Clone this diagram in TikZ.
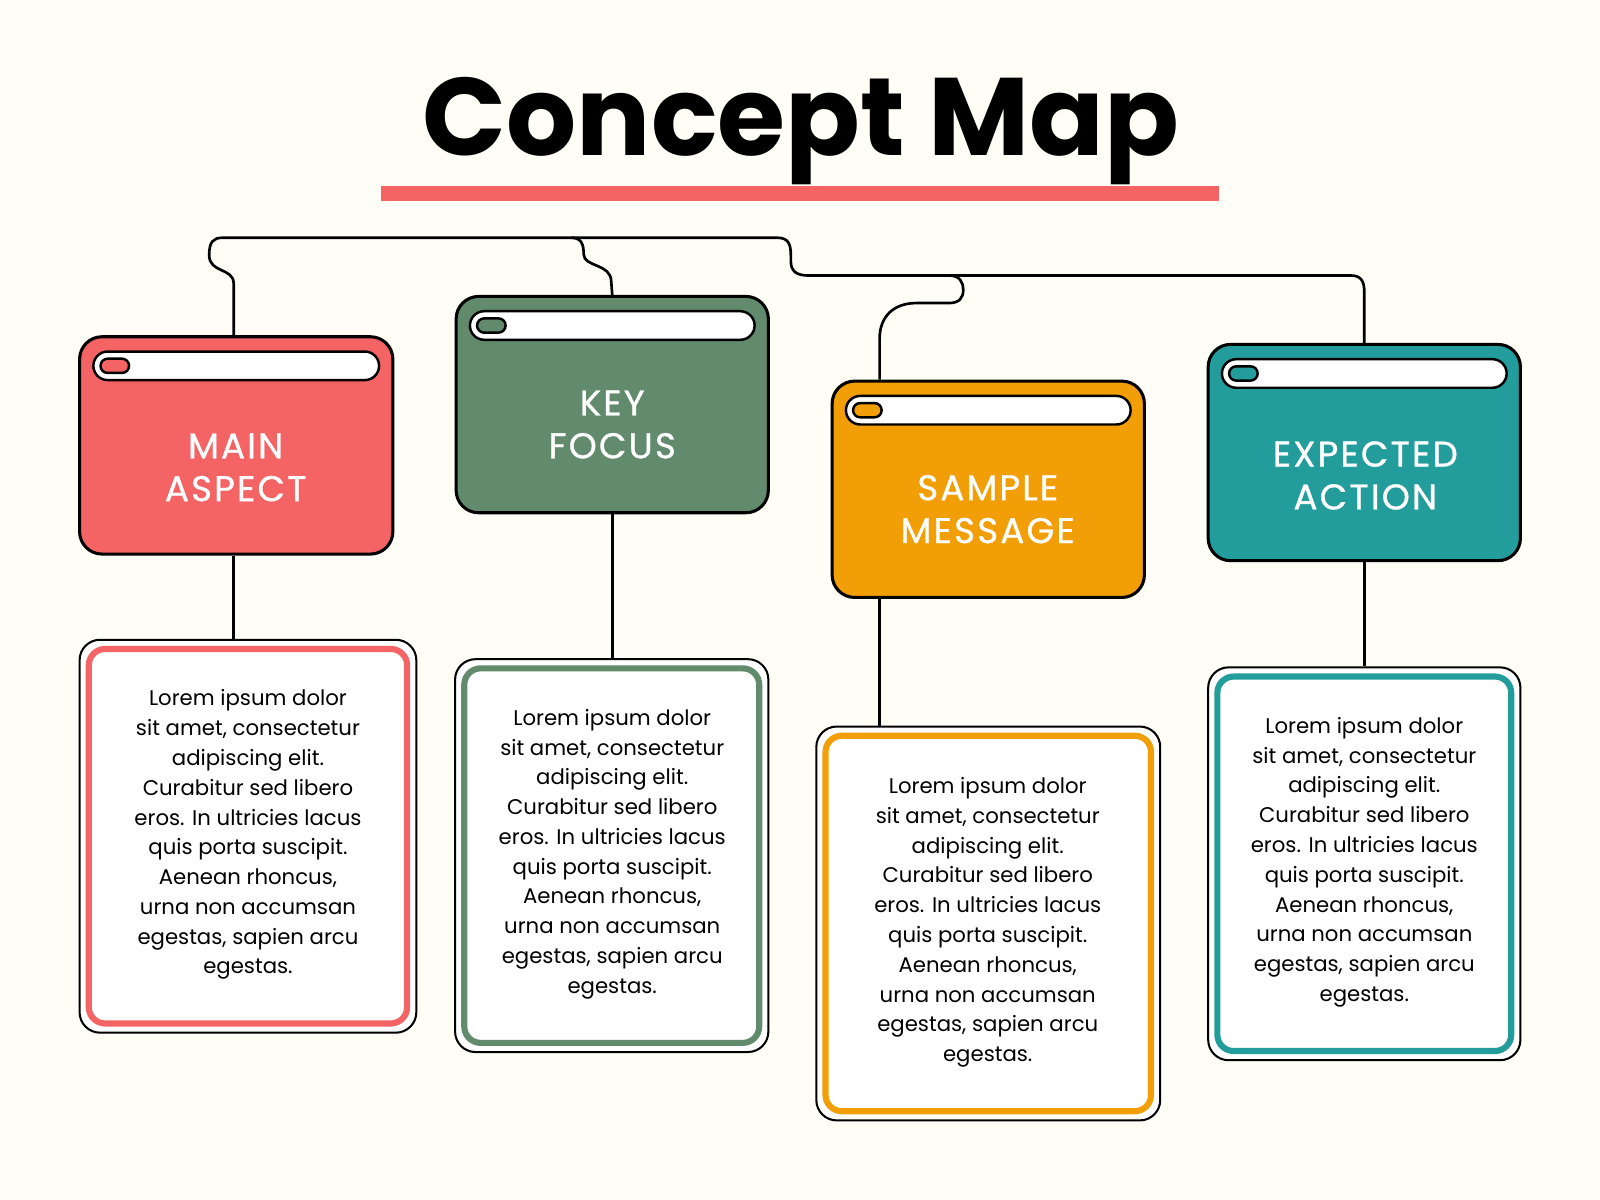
\documentclass[tikz,border=0pt]{standalone}
\usepackage{fontspec}
\setmainfont{Poppins}
\newfontfamily\headfont[LetterSpace=6, FakeBold=0.8]{Poppins}
\usetikzlibrary{calc}
\usetikzlibrary{shapes,arrows}

\definecolor{bgcol}{HTML}{FEFDF6}
\definecolor{redc}{HTML}{F46464}
\definecolor{greenc}{HTML}{628B6E}
\definecolor{orangec}{HTML}{F29E06}
\definecolor{tealc}{HTML}{239C9C}

\tikzset{
  head/.style={draw=black, line width=1.5pt, rounded corners=11pt, fill=#1,
    minimum width=153pt, minimum height=106pt, inner sep=0pt},
  headtext/.style={text=white, font=\headfont\fontsize{17.5}{21}\selectfont, align=center},
  textbox/.style={draw=black, line width=1pt, fill=white, rounded corners=10pt, inner sep=0pt},
  bodytext/.style={font=\fontsize{10.4}{14.6}\selectfont, align=center},
  wire/.style={line width=1.3pt}
}

\begin{document}
\begin{tikzpicture}[x=0.5pt, y=-0.5pt]
    \fill [bgcol] (0,0) rectangle (1568,1176);
    \useasboundingbox (0,0) rectangle (1568,1176);

    % title
    \node (title) at (785,128) {\fontsize{54}{56}\selectfont\bfseries Concept Map};
    \fill [redc] (373,182) rectangle (1195,197);

    % headers
    \node [head=redc, minimum width=153.5pt, minimum height=106.5pt] (mainHead) at (231.5,436.5) {};
    \node [head=greenc] (keyHead) at (600,396.5) {};
    \node [head=orangec] (sampleHead) at (968.5,479.5) {};
    \node [head=tealc] (actionHead) at (1337,443.5) {};

    % text boxes
    \node [textbox, minimum width=165pt, minimum height=192.5pt] (mainText) at (243,819.5) {};
    \node [textbox, minimum width=153.5pt, minimum height=192.5pt] (keyText) at (599.5,838.5) {};
    \node [textbox, minimum width=168.5pt, minimum height=193pt] (sampleText) at (968.5,905) {};
    \node [textbox, minimum width=153pt, minimum height=192.5pt] (actionText) at (1337,846.5) {};

    \draw [redc, line width=3pt, rounded corners=8pt] ([shift={(10,10)}]mainText.north west) rectangle ([shift={(-10,-10)}]mainText.south east);
    \draw [greenc, line width=3pt, rounded corners=8pt] ([shift={(10,10)}]keyText.north west) rectangle ([shift={(-10,-10)}]keyText.south east);
    \draw [orangec, line width=3pt, rounded corners=8pt] ([shift={(10,10)}]sampleText.north west) rectangle ([shift={(-10,-10)}]sampleText.south east);
    \draw [tealc, line width=3pt, rounded corners=8pt] ([shift={(10,10)}]actionText.north west) rectangle ([shift={(-10,-10)}]actionText.south east);

    % window bars
    \draw [line width=1.2pt, fill=white, rounded corners=7pt] ([shift={(15,16)}]mainHead.north west) rectangle ([shift={(-15,44)}]mainHead.north east);
    \draw [line width=1.2pt, fill=redc, rounded corners=3.5pt] ([shift={(22,23)}]mainHead.north west) rectangle ([shift={(50,37)}]mainHead.north west);
    \draw [line width=1.2pt, fill=white, rounded corners=7pt] ([shift={(15,16)}]keyHead.north west) rectangle ([shift={(-15,44)}]keyHead.north east);
    \draw [line width=1.2pt, fill=greenc, rounded corners=3.5pt] ([shift={(22,23)}]keyHead.north west) rectangle ([shift={(50,37)}]keyHead.north west);
    \draw [line width=1.2pt, fill=white, rounded corners=7pt] ([shift={(15,16)}]sampleHead.north west) rectangle ([shift={(-15,44)}]sampleHead.north east);
    \draw [line width=1.2pt, fill=orangec, rounded corners=3.5pt] ([shift={(22,23)}]sampleHead.north west) rectangle ([shift={(50,37)}]sampleHead.north west);
    \draw [line width=1.2pt, fill=white, rounded corners=7pt] ([shift={(15,16)}]actionHead.north west) rectangle ([shift={(-15,44)}]actionHead.north east);
    \draw [line width=1.2pt, fill=tealc, rounded corners=3.5pt] ([shift={(22,23)}]actionHead.north west) rectangle ([shift={(50,37)}]actionHead.north west);

    % header labels
    \node [headtext] (mainLabel) at (231,458) {MAIN\\ASPECT};
    \node [headtext] (keyLabel) at (600,416) {KEY\\FOCUS};
    \node [headtext] (sampleLabel) at (968,499) {SAMPLE\\MESSAGE};
    \node [headtext] (actionLabel) at (1338,466) {EXPECTED\\ACTION};

    % body texts
    \node [bodytext] (mainBody) at (243,818) {Lorem ipsum dolor\\sit amet, consectetur\\adipiscing elit.\\Curabitur sed libero\\eros. In ultricies lacus\\quis porta suscipit.\\Aenean rhoncus,\\urna non accumsan\\egestas, sapien arcu\\egestas.};
    \node [bodytext] (keyBody) at (600,837) {Lorem ipsum dolor\\sit amet, consectetur\\adipiscing elit.\\Curabitur sed libero\\eros. In ultricies lacus\\quis porta suscipit.\\Aenean rhoncus,\\urna non accumsan\\egestas, sapien arcu\\egestas.};
    \node [bodytext] (sampleBody) at (968,904) {Lorem ipsum dolor\\sit amet, consectetur\\adipiscing elit.\\Curabitur sed libero\\eros. In ultricies lacus\\quis porta suscipit.\\Aenean rhoncus,\\urna non accumsan\\egestas, sapien arcu\\egestas.};
    \node [bodytext] (actionBody) at (1337,845) {Lorem ipsum dolor\\sit amet, consectetur\\adipiscing elit.\\Curabitur sed libero\\eros. In ultricies lacus\\quis porta suscipit.\\Aenean rhoncus,\\urna non accumsan\\egestas, sapien arcu\\egestas.};

    % header to text
    \draw [wire] (mainHead.south -| 229,0) -- (mainText.north -| 229,0);
    \draw [wire] (keyHead.south) -- (keyText.north -| keyHead.south);
    \draw [wire] (sampleHead.south -| 862,0) -- (sampleText.north -| 862,0);
    \draw [wire] (actionHead.south) -- (actionText.north -| actionHead.south);

    % top wiring
    \coordinate (J1) at (560,233);
    \coordinate (J2) at (930,270);
    \draw [wire] (mainHead.north -| 229,0) -- (229,278) .. controls (229,262) and (205,268) .. (205,250)
        .. controls (205,237) and (209,233) .. (218,233) -- (J1) -- (762,233)
        .. controls (773,233) and (775,240) .. (775,250) -- (775,256)
        .. controls (775,266) and (781,270) .. (792,270) -- (J2) -- (1324,270)
        .. controls (1334,270) and (1337,276) .. (1337,286) -- (actionHead.north);
    \draw [wire] (J1) .. controls (570,233) and (572,240) .. (572,249)
        .. controls (572,262) and (599,258) .. (599,276) -- (keyHead.north);
    \draw [wire] (J2) .. controls (941,270) and (944,277) .. (944,284)
        .. controls (944,292) and (940,297) .. (930,297) -- (898,297)
        .. controls (876,297) and (862,310) .. (862,332) -- (sampleHead.north -| 862,0);
\end{tikzpicture}
\end{document}
